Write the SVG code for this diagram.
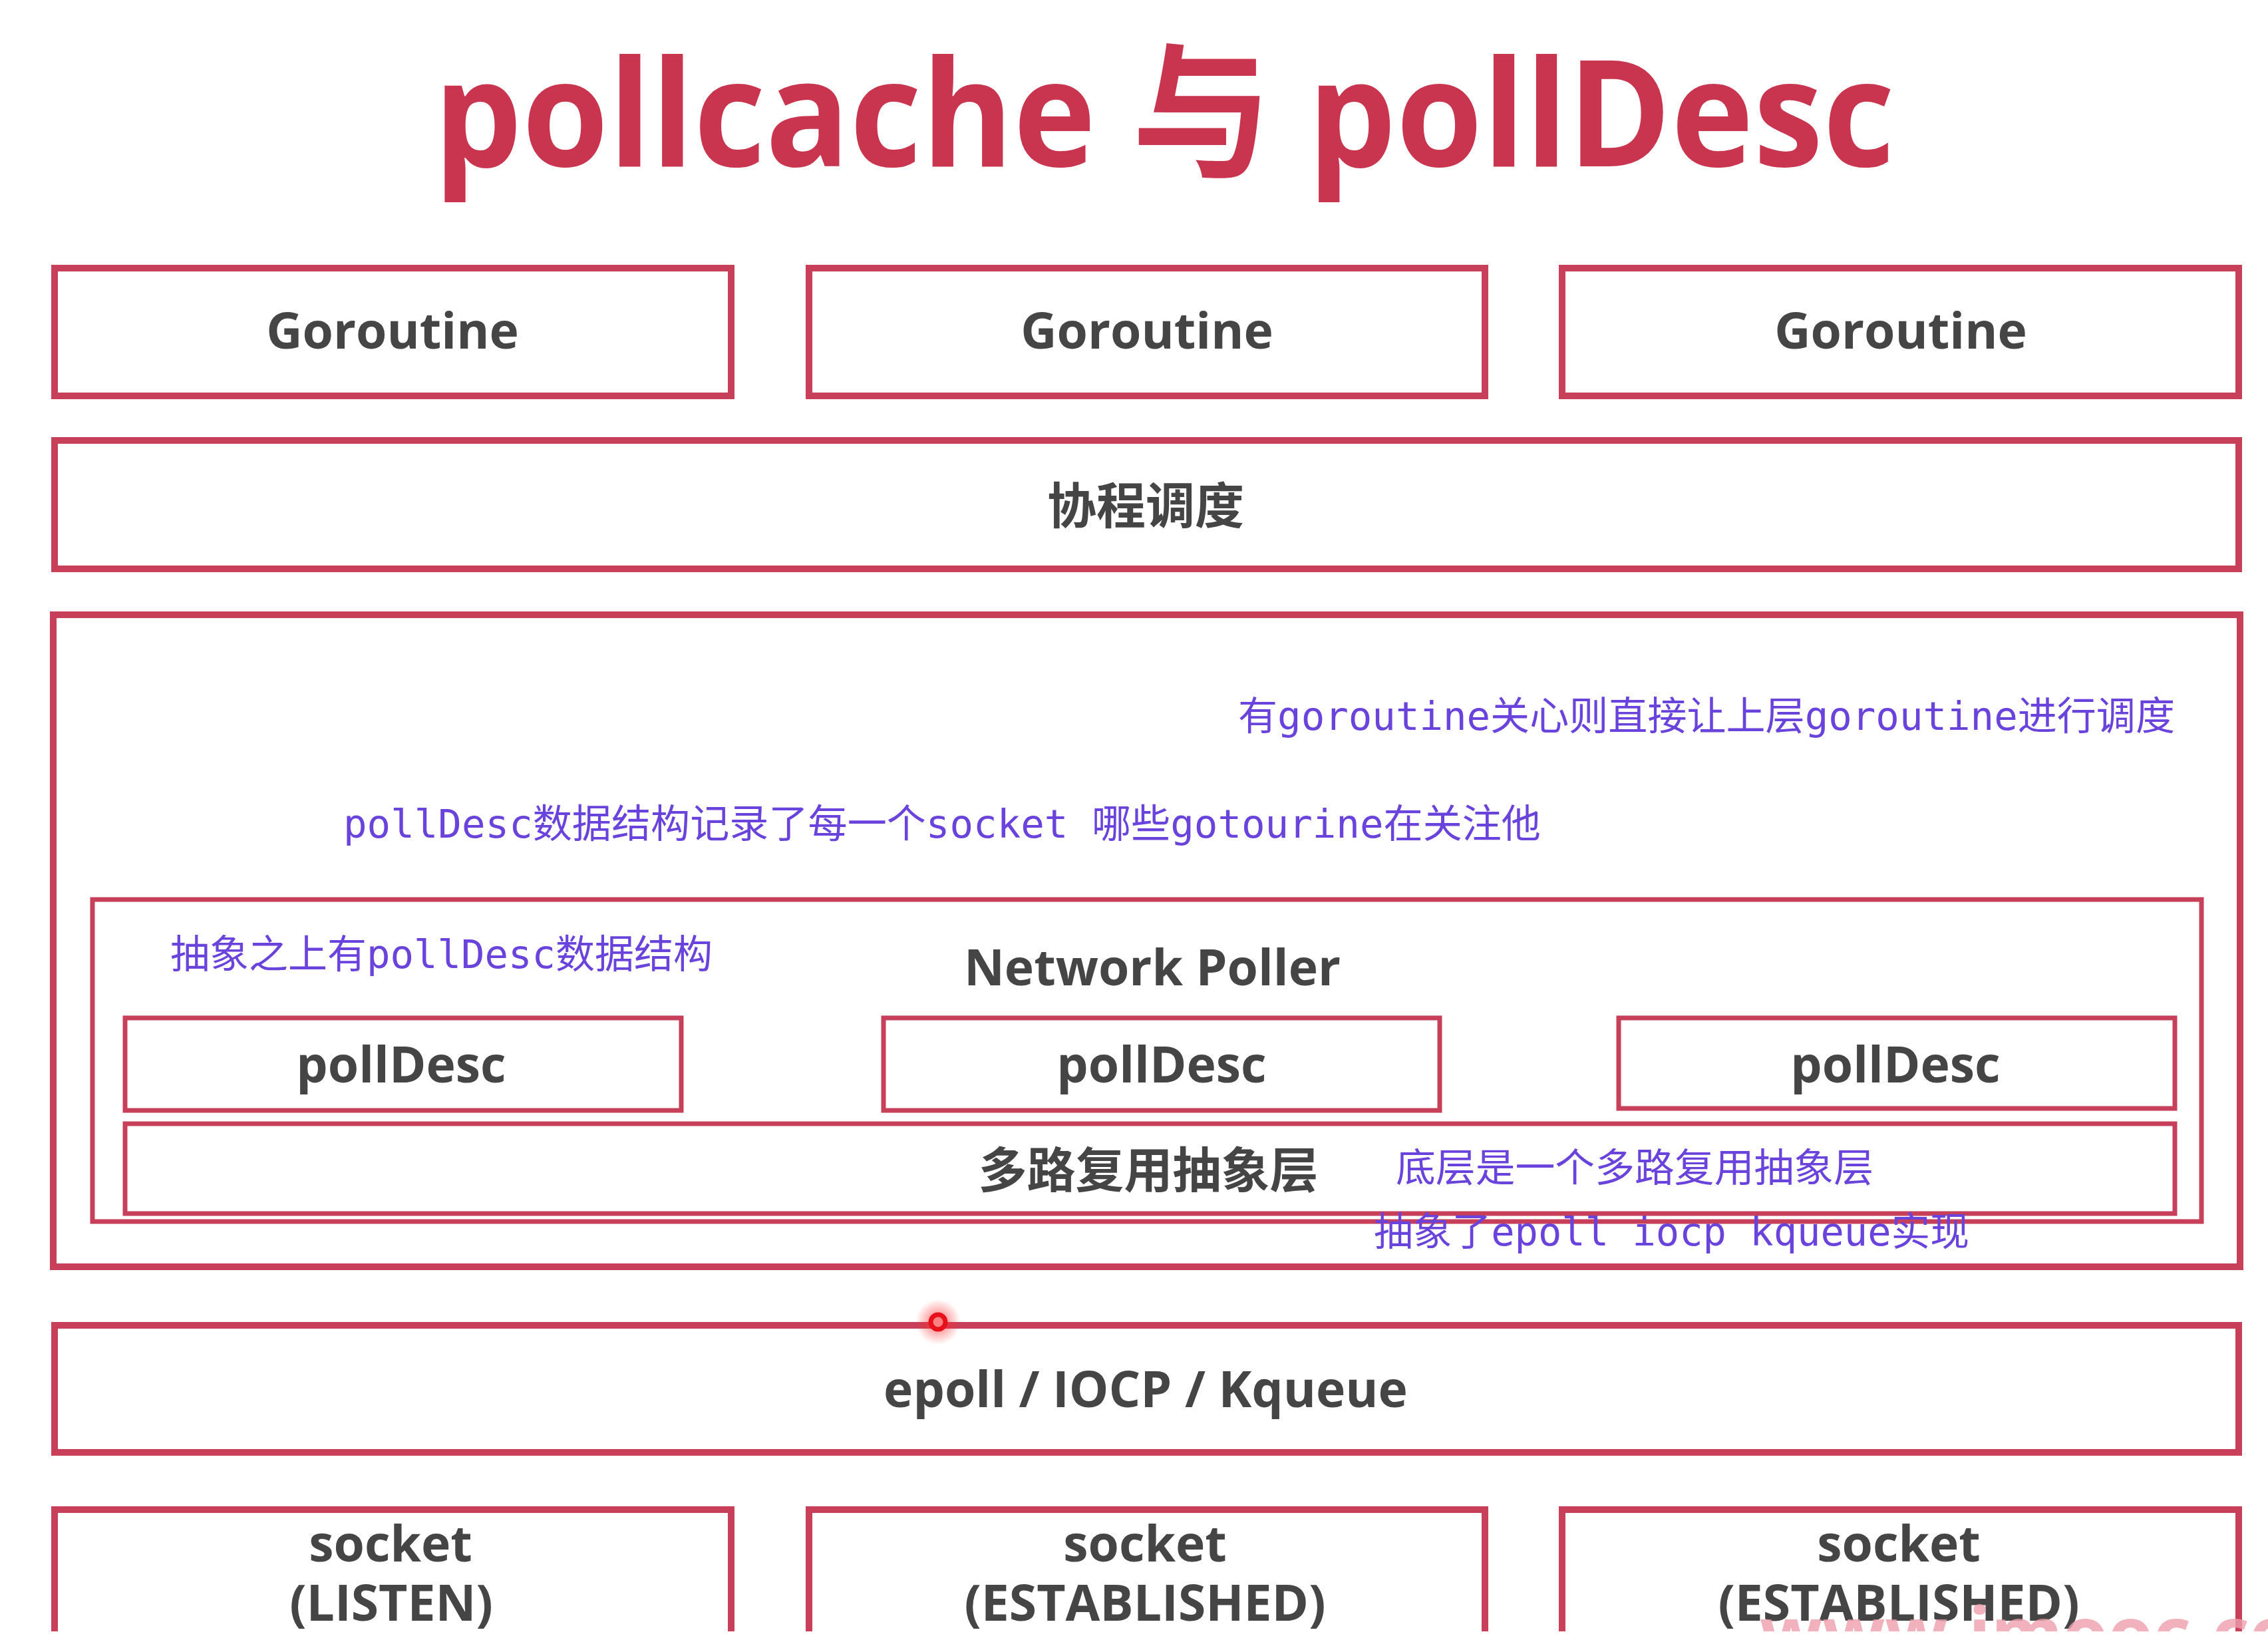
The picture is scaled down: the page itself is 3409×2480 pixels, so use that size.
<svg xmlns="http://www.w3.org/2000/svg" width="3409" height="2480" viewBox="0 0 3409 2480">
  <defs>
    <style>
      .box { fill: #ffffff; stroke: #C83F5A; stroke-width: 10; }
      .thin { stroke-width: 7; }
      .open { fill: none; stroke: #C83F5A; stroke-width: 10; }
      .lbl { font-family: "Open Sans", "Noto Sans CJK SC", sans-serif; font-weight: 700; fill: #454545; text-anchor: middle; font-size: 75px; }
      .cjk { font-family: "Noto Sans CJK SC", sans-serif; font-weight: 700; fill: #454545; text-anchor: middle; }
      .note { font-family: "DejaVu Sans Mono", "Noto Sans CJK SC", monospace; font-size: 59px; fill: #6A43DD; }
      .title { font-family: "Open Sans", "Noto Sans CJK SC", sans-serif; font-weight: 700; fill: #C9344F; font-size: 222px; }
    </style>
    <clipPath id="bottomClip">
      <rect x="0" y="0" width="3409" height="2452"/>
    </clipPath>
    <radialGradient id="glow">
      <stop offset="0" stop-color="#ff2a2a" stop-opacity="0.7"/>
      <stop offset="1" stop-color="#ff2a2a" stop-opacity="0"/>
    </radialGradient>
  </defs>

  <rect x="0" y="0" width="3409" height="2480" fill="#ffffff"/>

  <g id="title">
    <text class="title" x="652" y="250" textLength="2196" lengthAdjust="spacingAndGlyphs">pollcache 与 pollDesc</text>
  </g>

  <g id="goroutine-1">
    <rect class="box" x="82" y="403" width="1017" height="192"/>
    <text class="lbl" x="590" y="524">Goroutine</text>
  </g>
  <g id="goroutine-2">
    <rect class="box" x="1216" y="403" width="1016" height="192"/>
    <text class="lbl" x="1724" y="524">Goroutine</text>
  </g>
  <g id="goroutine-3">
    <rect class="box" x="2348" y="403" width="1017" height="192"/>
    <text class="lbl" x="2857" y="524">Goroutine</text>
  </g>

  <g id="scheduler">
    <rect class="box" x="82" y="662" width="3283" height="193"/>
    <text class="cjk" x="1722" y="787" font-size="74">协程调度</text>
  </g>

  <g id="netpoll-outer">
    <rect class="box" x="80" y="924" width="3287" height="980"/>
  </g>

  <g id="network-poller">
    <rect class="box thin" x="139" y="1352" width="3170" height="484"/>
    <text class="lbl" x="1732" y="1481" font-size="72">Network Poller</text>
  </g>

  <g id="polldesc-1">
    <rect class="box thin" x="188" y="1530" width="836" height="139"/>
    <text class="lbl" x="603" y="1627">pollDesc</text>
  </g>
  <g id="polldesc-2">
    <rect class="box thin" x="1328" y="1530" width="836" height="139"/>
    <text class="lbl" x="1746" y="1627">pollDesc</text>
  </g>
  <g id="polldesc-3">
    <rect class="box thin" x="2433" y="1530" width="836" height="136"/>
    <text class="lbl" x="2849" y="1627">pollDesc</text>
  </g>

  <g id="multiplex-layer">
    <rect class="box thin" x="188" y="1689" width="3081" height="135"/>
    <text class="cjk" x="1726" y="1785" font-size="73">多路复用抽象层</text>
  </g>

  <g id="epoll">
    <rect class="box" x="82" y="1992" width="3283" height="191"/>
    <text class="lbl" x="1722" y="2115">epoll / IOCP / Kqueue</text>
  </g>

  <g clip-path="url(#bottomClip)">
    <g id="socket-1">
      <path class="open" d="M82,2470 V2269 H1099 V2470"/>
      <text class="lbl" x="587" y="2347">socket</text>
      <text class="lbl" x="588" y="2436">(LISTEN)</text>
    </g>
    <g id="socket-2">
      <path class="open" d="M1216,2470 V2269 H2232 V2470"/>
      <text class="lbl" x="1721" y="2347">socket</text>
      <text class="lbl" x="1721" y="2436">(ESTABLISHED)</text>
    </g>
    <g id="socket-3">
      <path class="open" d="M2348,2470 V2269 H3365 V2470"/>
      <text class="lbl" x="2854" y="2347">socket</text>
      <text class="lbl" x="2854" y="2436">(ESTABLISHED)</text>
    </g>
    <text x="2645" y="2494" font-family="Open Sans, sans-serif" font-weight="700" font-size="110" fill="#EE9FAC" fill-opacity="0.8">www.imooc.com</text>
  </g>

  <g id="annotations">
    <text class="note" x="1861" y="1097" textLength="1408" lengthAdjust="spacingAndGlyphs">有goroutine关心则直接让上层goroutine进行调度</text>
    <text class="note" x="516" y="1259" textLength="1800" lengthAdjust="spacingAndGlyphs">pollDesc数据结构记录了每一个socket 哪些gotourine在关注他</text>
    <text class="note" x="256" y="1455" textLength="815" lengthAdjust="spacingAndGlyphs">抽象之上有pollDesc数据结构</text>
    <text class="note" x="2098" y="1776" textLength="718" lengthAdjust="spacingAndGlyphs">底层是一个多路复用抽象层</text>
    <text class="note" x="2065" y="1872" textLength="895" lengthAdjust="spacingAndGlyphs">抽象了epoll iocp kqueue实现</text>
  </g>

  <g id="pointer">
    <circle cx="1410" cy="1987" r="34" fill="url(#glow)"/>
    <circle cx="1410" cy="1987" r="11" fill="#ff8080" stroke="#e8101a" stroke-width="7"/>
  </g>

  <g id="connectors"/>
</svg>
